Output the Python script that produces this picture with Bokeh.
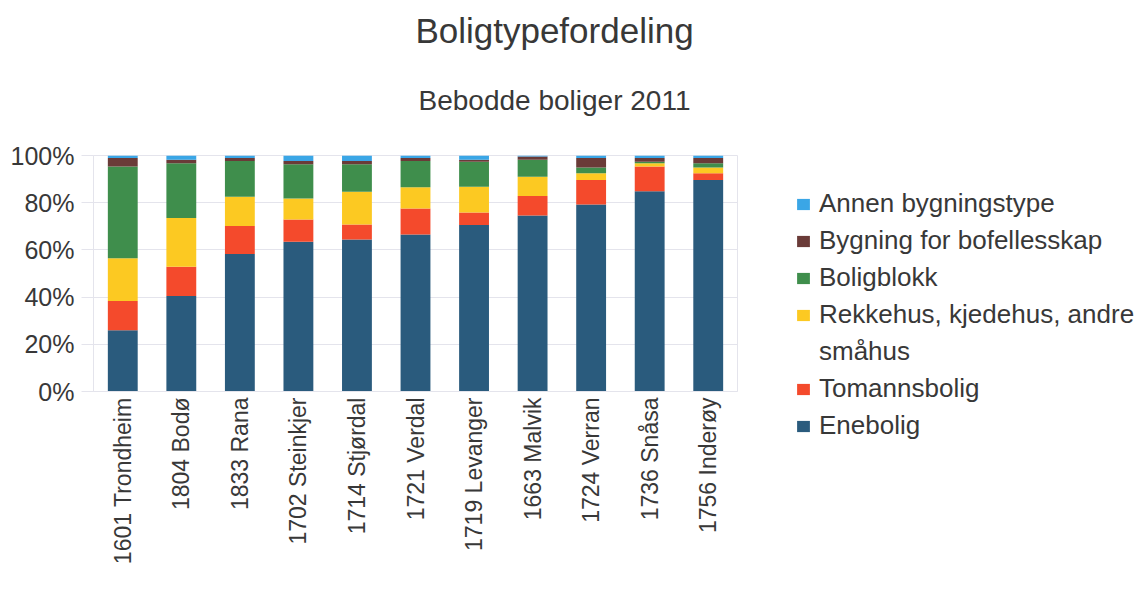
from bokeh.plotting import figure
from bokeh.layouts import column, row
from bokeh.models import (ColumnDataSource, Legend, LegendItem, Label,
                          PrintfTickFormatter, FixedTicker, FactorRange, Range1d)
from bokeh.embed import file_html
from bokeh.resources import INLINE

kommuner = ["1601 Trondheim", "1804 Bodø", "1833 Rana", "1702 Steinkjer",
            "1714 Stjørdal", "1721 Verdal", "1719 Levanger", "1663 Malvik",
            "1724 Verran", "1736 Snåsa", "1756 Inderøy"]

enebolig      = [26.0, 40.5, 58.3, 63.5, 64.4, 66.5, 70.6, 74.6, 79.2, 84.9, 89.6]
tomannsbolig  = [12.4, 12.4, 11.8,  9.4,  6.4, 11.0,  5.2,  8.2, 10.4, 10.4,  2.9]
rekkehus      = [18.1, 20.6, 12.4,  8.9, 13.8,  9.0, 11.0,  8.2,  2.9,  1.4,  2.4]
boligblokk    = [38.8, 23.2, 15.2, 14.5, 11.7, 11.2, 10.6,  7.2,  2.4,  0.7,  1.8]
bofellesskap  = [ 3.6,  1.5,  1.2,  1.4,  1.4,  1.2,  0.8,  1.4,  4.0,  1.5,  2.2]
annen         = [ 1.1,  1.8,  1.1,  2.3,  2.3,  1.1,  1.8,  0.4,  1.1,  1.1,  1.1]

series_keys = ["enebolig", "tomannsbolig", "rekkehus", "boligblokk", "bofellesskap", "annen"]
series_labels = ["Enebolig", "Tomannsbolig", "Rekkehus, kjedehus, andre",
                 "Boligblokk", "Bygning for bofellesskap", "Annen bygningstype"]
label_continuation = "småhus"   # second line of the "Rekkehus" legend label
colors = ["#2a5b7d", "#f44a2c", "#fcc922", "#3f8e4c", "#6a3b38", "#3aa6e6"]

y_ticks = [0, 20, 40, 60, 80, 100]

title_text = "Boligtypefordeling"
subtitle_text = "Bebodde boliger 2011"

source = ColumnDataSource(data=dict(
    kommune=kommuner, enebolig=enebolig, tomannsbolig=tomannsbolig,
    rekkehus=rekkehus, boligblokk=boligblokk, bofellesskap=bofellesskap,
    annen=annen))

FONT = "Liberation Sans"
TXT = "#383838"
FAINT = "#e4e4ec"

W, H = 1124, 588
TOP_H = 124
MAIN_H = H - TOP_H

# ---- titles ----
tp = figure(width=W, height=TOP_H, x_range=Range1d(0, 1), y_range=Range1d(0, 1),
            x_axis_type=None, y_axis_type=None, output_backend="svg",
            toolbar_location=None, min_border=0)
tp.outline_line_color = None
tp.add_layout(Label(x=554, y=TOP_H - 30, x_units="screen", y_units="screen",
                    text=title_text, text_align="center", text_baseline="alphabetic",
                    text_font=FONT, text_font_size="35px", text_color=TXT))
tp.add_layout(Label(x=554, y=TOP_H - 100, x_units="screen", y_units="screen",
                    text=subtitle_text, text_align="center", text_baseline="alphabetic",
                    text_font=FONT, text_font_size="28px", text_color=TXT))

# ---- main chart ----
p = figure(width=W, height=MAIN_H, x_range=FactorRange(*kommuner, range_padding=0),
           y_range=Range1d(0, 100), output_backend="svg", toolbar_location=None,
           frame_width=644, frame_height=236,
           min_border_left=93, min_border_right=0, min_border_top=31, min_border_bottom=197)

renderers = p.vbar_stack(series_keys, x="kommune", width=0.51, color=colors,
                         line_color=None, source=source)
spacer = p.vbar(x=[], top=[], width=0.5, fill_alpha=0, line_alpha=0)

p.background_fill_color = "white"
p.border_fill_color = "white"
p.outline_line_color = FAINT

p.xgrid.grid_line_color = None
p.ygrid.grid_line_color = FAINT
p.ygrid.ticker = FixedTicker(ticks=y_ticks)

p.yaxis.ticker = FixedTicker(ticks=y_ticks)
p.yaxis.formatter = PrintfTickFormatter(format="%d%%")
p.yaxis.major_label_text_font = FONT
p.yaxis.major_label_text_font_size = "25px"
p.yaxis.major_label_text_color = TXT
p.yaxis.axis_line_color = FAINT
p.yaxis.major_tick_line_color = FAINT
p.yaxis.major_tick_out = 12
p.yaxis.major_tick_in = 0
p.yaxis.minor_tick_line_color = None
p.yaxis.major_label_standoff = 7

p.xaxis.major_label_orientation = 1.5708
p.xaxis.major_label_text_font = FONT
p.xaxis.major_label_text_font_size = "23px"
p.xaxis.major_label_text_color = TXT
p.xaxis.axis_line_color = FAINT
p.xaxis.major_tick_line_color = None
p.xaxis.major_tick_out = 0
p.xaxis.major_tick_in = 0
p.xaxis.minor_tick_line_color = None
p.xaxis.major_label_standoff = 6

# ---- legend (outside the frame, right side panel) ----
items = []
for key, lab, r in reversed(list(zip(series_keys, series_labels, renderers))):
    items.append(LegendItem(label=lab, renderers=[r]))
    if key == "rekkehus":
        items.append(LegendItem(label=label_continuation, renderers=[spacer]))

legend = Legend(items=items, location=(58, -50), orientation="vertical")
legend.label_text_font = FONT
legend.label_text_font_size = "26px"
legend.label_text_color = TXT
legend.glyph_width = 16
legend.glyph_height = 14
legend.label_standoff = 8
legend.spacing = 6
legend.padding = 0
legend.margin = 0
legend.border_line_color = None
legend.background_fill_alpha = 0
p.add_layout(legend, "right")

layout = column(tp, row(p, spacing=0), spacing=0)
open("out.html", "w").write(file_html(layout, INLINE))
